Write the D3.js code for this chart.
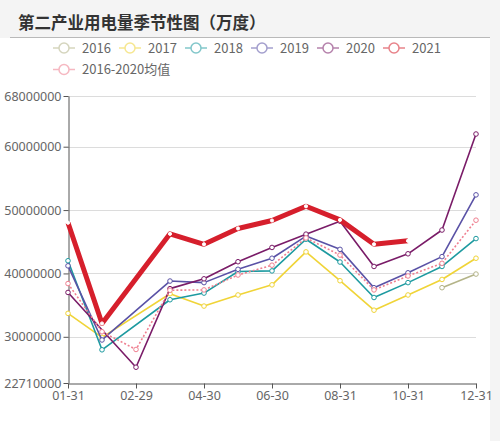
<!DOCTYPE html>
<meta charset="utf-8">
<style>
  body { margin: 0; background: #fff; }
  text { font-family: "Noto Sans CJK SC", "Noto Sans", sans-serif; }
</style>
<svg width="500" height="441"></svg>
<script src="https://cdn.jsdelivr.net/npm/d3@7"></script>
<script>
    // categories (month-end dates), 02-29 only exists in leap years
    var dates = ["01-31", "02-28", "02-29", "03-31", "04-30", "05-31", "06-30",
                 "07-31", "08-31", "09-30", "10-31", "11-30", "12-31"];
    var yTicks = [22710000, 30000000, 40000000, 50000000, 60000000, 68000000];

    // values (null = no point)
    var v2016 = [null, null, null, null, null, null, null, null, null, null, null, 37750000, 39900000];
    var v2017 = [33700000, 29900000, null, 36800000, 34850000, 36600000, 38200000, 43400000, 38850000, 34200000, 36600000, 39050000, 42400000];
    var v2018 = [42000000, 27950000, null, 35850000, 36900000, 40300000, 40400000, 45400000, 41800000, 36200000, 38550000, 41100000, 45500000];
    var v2019 = [41200000, 29500000, null, 38800000, 38550000, 40650000, 42400000, 45900000, 43800000, 37750000, 40100000, 42650000, 52400000];
    var v2020 = [37000000, null, 25200000, 37600000, 39150000, 41850000, 44100000, 46200000, 48250000, 41100000, 43100000, 46850000, 62000000];
    var v2021 = [48000000, 32100000, null, 46250000, 44600000, 47100000, 48350000, 50600000, 48450000, 44600000, 45150000, null, null];
    var vAvg  = [38400000, 30800000, 28000000, 37350000, 37400000, 39750000, 41300000, 45600000, 42900000, 37400000, 39600000, 41600000, 48400000];

    var series = [
        {name: "2016", values: v2016, color: "#b4b489", width: 1.6},
        {name: "2017", values: v2017, color: "#f0d438", width: 1.6},
        {name: "2018", values: v2018, color: "#1d9aa0", width: 1.6},
        {name: "2019", values: v2019, color: "#5a52a6", width: 1.6},
        {name: "2020", values: v2020, color: "#7a1c68", width: 1.6},
        {name: "2021", values: v2021, color: "#d61f2c", width: 5},
        {name: "2016-2020均值", values: vAvg, color: "#ef7f90", width: 1.6, dash: "2,2"}
    ];

    var svg = d3.select("svg");

    // title bar
    svg.append("rect").attr("width", 500).attr("height", 38).attr("fill", "#f4f4f4");
    svg.append("rect").attr("x", 490).attr("y", 38).attr("width", 10).attr("height", 403).attr("fill", "#f4f4f4");
    svg.append("line").attr("x1", 10).attr("x2", 490).attr("y1", 37.5).attr("y2", 37.5)
        .attr("stroke", "#b9b9b9");
    svg.append("text").attr("x", 18).attr("y", 29)
        .attr("font-size", 16.5).attr("font-weight", "bold").attr("fill", "#333")
        .text("第二产业用电量季节性图（万度）");

    var x = d3.scalePoint().domain(dates).range([68, 476]);
    var y = d3.scaleLinear().domain([22710000, 68000000]).range([383, 96]);

    // grid
    svg.append("g").selectAll("line").data(yTicks.slice(1)).join("line")
        .attr("x1", 68).attr("x2", 476)
        .attr("y1", function(d) { return Math.round(y(d)) + 0.5; })
        .attr("y2", function(d) { return Math.round(y(d)) + 0.5; })
        .attr("stroke", "#dcdcdc");

    var yAxis = svg.append("g").attr("transform", "translate(68.5,0)")
        .call(d3.axisLeft(y).tickValues(yTicks).tickFormat(d3.format("d")).tickSize(5).tickSizeOuter(0));
    var xAxis = svg.append("g").attr("transform", "translate(0,383.5)")
        .call(d3.axisBottom(x).tickValues(dates.filter(function(d, i) { return i % 2 === 0; }))
            .tickSize(5).tickSizeOuter(0));
    [yAxis, xAxis].forEach(function(a) {
        a.select(".domain").attr("stroke", "#555");
        a.selectAll(".tick line").attr("stroke", "#555");
        a.selectAll("text").attr("fill", "#666").attr("font-size", 12.5)
            .style("font-family", "'Noto Sans', sans-serif");
    });
    yAxis.selectAll("text").attr("x", -7);
    xAxis.selectAll("text").attr("y", 8);

    var line = d3.line()
        .x(function(d) { return x(d.date); })
        .y(function(d) { return y(d.value); });

    var g = svg.append("g");
    series.forEach(function(s) {
        var pts = s.values.map(function(v, i) { return {date: dates[i], value: v}; })
            .filter(function(d) { return d.value !== null; });
        g.append("path").datum(pts)
            .attr("fill", "none")
            .attr("stroke", s.color)
            .attr("stroke-width", s.width)
            .attr("stroke-linejoin", "round")
            .attr("stroke-dasharray", s.dash || null)
            .attr("d", line);
        g.append("g").selectAll("circle").data(pts).join("circle")
            .attr("cx", function(d) { return x(d.date); })
            .attr("cy", function(d) { return y(d.value); })
            .attr("r", s.width > 3 ? 1.6 : 2.3)
            .attr("fill", "#fff")
            .attr("stroke", s.width > 3 ? "#fff" : s.color)
            .attr("stroke-width", 1);
    });

    // legend
    var legend = svg.append("g");
    series.forEach(function(s, i) {
        var row = i < 6 ? 0 : 1, col = i < 6 ? i : 0;
        var lx = 53 + col * 66, ly = 48 + row * 21.5;
        var item = legend.append("g").attr("transform", "translate(" + lx + "," + ly + ")")
            .attr("opacity", 0.55);
        item.append("line").attr("x1", 0).attr("x2", 22).attr("y1", 0).attr("y2", 0)
            .attr("stroke", s.color).attr("stroke-width", 1.5);
        item.append("circle").attr("cx", 11).attr("cy", 0).attr("r", 5)
            .attr("fill", "#fff").attr("stroke", s.color).attr("stroke-width", 1.5);
        legend.append("text").attr("x", lx + 29).attr("y", ly + 4.5)
            .attr("font-size", 13).attr("fill", "#666").text(s.name);
    });
</script>
